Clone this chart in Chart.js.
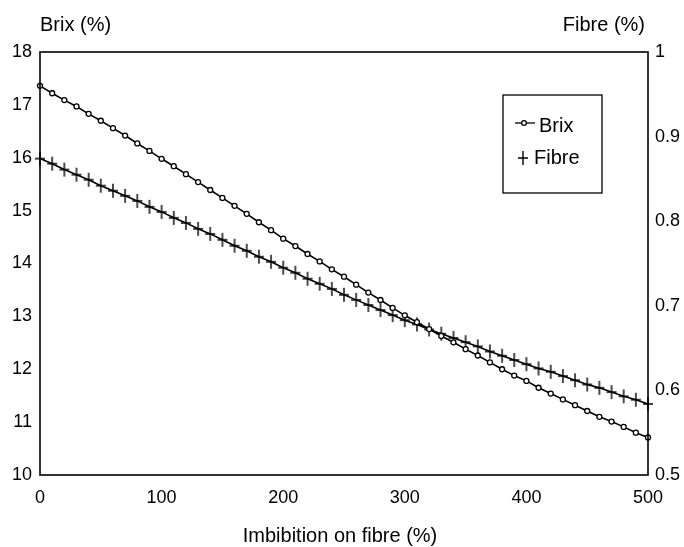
<!DOCTYPE html>
<html>
<head>
<meta charset="utf-8">
<script src="https://cdn.jsdelivr.net/npm/chart.js@4.4.1/dist/chart.umd.min.js"></script>
<style>
  html, body { margin: 0; padding: 0; background: #fff; }
  #chart { display: block; }
</style>
</head>
<body>
<canvas id="chart" width="684" height="547"></canvas>
<script>
// Imbibition on fibre (%) - sampled every 10 units
const imbibition = [0, 10, 20, 30, 40, 50, 60, 70, 80, 90,
    100, 110, 120, 130, 140, 150, 160, 170, 180, 190,
    200, 210, 220, 230, 240, 250, 260, 270, 280, 290,
    300, 310, 320, 330, 340, 350, 360, 370, 380, 390,
    400, 410, 420, 430, 440, 450, 460, 470, 480, 490, 500];

// Brix (%) - left axis
const brixValues = [17.36, 17.22, 17.09, 16.97, 16.83, 16.70, 16.56, 16.42, 16.27, 16.13,
    15.98, 15.84, 15.69, 15.54, 15.39, 15.24, 15.09, 14.94, 14.78, 14.63,
    14.47, 14.33, 14.18, 14.04, 13.89, 13.75, 13.60, 13.45, 13.31, 13.16,
    13.02, 12.89, 12.76, 12.63, 12.51, 12.38, 12.26, 12.13, 12.00, 11.88,
    11.78, 11.65, 11.54, 11.43, 11.32, 11.21, 11.10, 11.01, 10.91, 10.80, 10.71];

// Fibre (%) - right axis
const fibreValues = [0.874, 0.868, 0.861, 0.855, 0.849, 0.842, 0.836, 0.830, 0.824, 0.817,
    0.811, 0.804, 0.798, 0.791, 0.785, 0.778, 0.771, 0.765, 0.758, 0.752,
    0.745, 0.739, 0.732, 0.726, 0.720, 0.713, 0.707, 0.701, 0.695, 0.689,
    0.683, 0.678, 0.672, 0.667, 0.662, 0.657, 0.652, 0.646, 0.641, 0.636,
    0.631, 0.626, 0.622, 0.617, 0.612, 0.607, 0.603, 0.598, 0.593, 0.589, 0.584];

const seriesLabels = ['Brix', 'Fibre'];
const FONT = "'Liberation Sans', Arial, Helvetica, sans-serif";

// tall plus marker used for the fibre curve
function makeCross() {
    const c = document.createElement('canvas');
    c.width = 12; c.height = 16;
    const g = c.getContext('2d');
    g.strokeStyle = '#000';
    g.lineWidth = 1.4;
    g.beginPath();
    g.moveTo(6, 1); g.lineTo(6, 15);
    g.moveTo(1, 8); g.lineTo(11, 8);
    g.stroke();
    return c;
}
const crossMarker = makeCross();

// frame, titles and legend box
const decorations = {
    id: 'decorations',
    afterDraw(chart) {
        const ctx = chart.ctx;
        const a = chart.chartArea;
        ctx.save();
        ctx.strokeStyle = '#000';
        ctx.lineWidth = 1.6;
        ctx.strokeRect(a.left, a.top, a.right - a.left, a.bottom - a.top);

        ctx.fillStyle = '#000';
        ctx.font = '20px ' + FONT;
        ctx.textBaseline = 'middle';
        ctx.textAlign = 'left';
        ctx.fillText('Brix (%)', 40, 25);
        ctx.textAlign = 'right';
        ctx.fillText('Fibre (%)', 645, 25);
        ctx.textAlign = 'center';
        ctx.fillText('Imbibition on fibre (%)', 340, 536);

        // legend
        ctx.lineWidth = 1.3;
        ctx.strokeRect(503, 95, 99, 98);
        ctx.beginPath();
        ctx.moveTo(515, 123); ctx.lineTo(535, 123);
        ctx.stroke();
        ctx.beginPath();
        ctx.arc(524, 123, 2.4, 0, Math.PI * 2);
        ctx.fillStyle = '#fff';
        ctx.fill();
        ctx.stroke();
        ctx.drawImage(crossMarker, 517, 150);
        ctx.fillStyle = '#000';
        ctx.font = '20px ' + FONT;
        ctx.textAlign = 'left';
        ctx.fillText(seriesLabels[0], 539, 126);
        ctx.fillText(seriesLabels[1], 534, 158);
        ctx.restore();
    }
};

const ctx = document.getElementById('chart');
new Chart(ctx, {
    type: 'line',
    data: {
        datasets: [{
            label: seriesLabels[0],
            data: imbibition.map((x, i) => ({ x: x, y: brixValues[i] })),
            yAxisID: 'y',
            borderColor: '#000',
            borderWidth: 1.6,
            pointStyle: 'circle',
            pointRadius: 2.5,
            pointBorderWidth: 1.3,
            pointBorderColor: '#000',
            pointBackgroundColor: '#fff',
            clip: false
        }, {
            label: seriesLabels[1],
            data: imbibition.map((x, i) => ({ x: x, y: fibreValues[i] })),
            yAxisID: 'y1',
            borderColor: '#000',
            borderWidth: 1.6,
            pointStyle: crossMarker,
            pointRadius: 6,
            clip: false
        }]
    },
    options: {
        responsive: false,
        animation: false,
        layout: { padding: { top: 52, left: 0, right: 0, bottom: 0 } },
        plugins: {
            legend: { display: false },
            tooltip: { enabled: false }
        },
        scales: {
            x: {
                type: 'linear',
                min: 0,
                max: 500,
                grid: { display: false, drawTicks: false },
                border: { display: false },
                ticks: { stepSize: 100, color: '#000', padding: 12, font: { family: FONT, size: 18 } },
                afterFit(scale) { scale.height = 72; }
            },
            y: {
                position: 'left',
                min: 10,
                max: 18,
                grid: { display: false, drawTicks: false },
                border: { display: false },
                ticks: { stepSize: 1, color: '#000', padding: 8, font: { family: FONT, size: 18 } },
                afterFit(scale) { scale.width = 40; }
            },
            y1: {
                position: 'right',
                min: 0.5,
                max: 1,
                grid: { display: false, drawTicks: false },
                border: { display: false },
                ticks: {
                    stepSize: 0.1,
                    color: '#000',
                    padding: 7,
                    font: { family: FONT, size: 18 },
                    callback: v => String(+v.toFixed(1))
                },
                afterFit(scale) { scale.width = 36; }
            }
        }
    },
    plugins: [decorations]
});
</script>
</body>
</html>
